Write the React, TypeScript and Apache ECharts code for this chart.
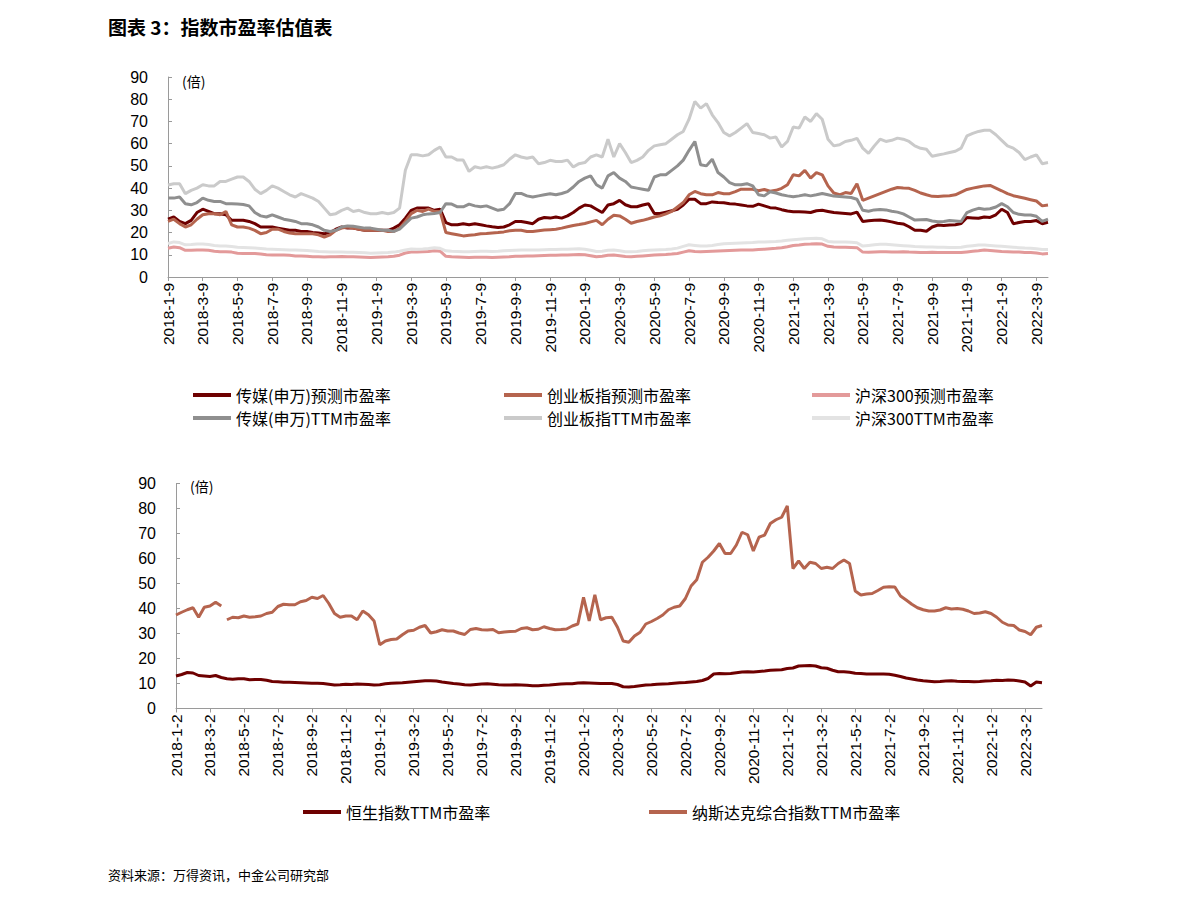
import React, { useEffect, useRef } from "react";
import * as echarts from "echarts";

// ---------- categories ----------
const topDays = [9, 19, 29];
const bottomDays = [2, 12, 22];
const topDates: string[] = [];
const bottomDates: string[] = [];
for (let y = 2018; y <= 2022; y++) {
  for (let m = 1; m <= 12; m++) {
    if (y === 2022 && m > 3) break;
    for (const d of topDays) topDates.push(`${y}-${m}-${d}`);
    for (const d of bottomDays) bottomDates.push(`${y}-${m}-${d}`);
  }
}
bottomDates.push("2022-4-2");

const yTicks = [0, 10, 20, 30, 40, 50, 60, 70, 80, 90];

// ---------- top chart series ----------
const mediaFwd = [
  26, 27, 25, 24, 25.5, 29, 30.5, 29.5, 28.5, 28.5,
  28, 25.5, 25.5, 25.5, 25, 24, 22.5, 22.5, 22.5, 22,
  21.5, 21, 21, 20.5, 20.5, 20, 19.8, 19.5, 20, 21.5,
  22.5, 22, 22, 21.5, 21, 21, 21, 21, 21, 22,
  23.5, 26.5, 30, 31, 31, 31, 30, 30.5, 24.5, 23.5,
  23.5, 24, 23.5, 24, 23.5, 23, 22.6, 22.3, 22.5, 23.5,
  25, 25, 24.5, 24, 26, 26.8, 26.5, 27, 26.5, 27.5,
  29, 31, 32.4, 32, 30.5, 29, 32.4, 33, 34.5, 32.5,
  31.6, 31.6, 32.4, 33, 28.6, 28.6, 29.2, 29.8, 30.5, 32.4,
  35, 35, 33, 33, 33.8, 33.5, 33.4, 33, 32.8, 32.4,
  32, 31.8, 32.8, 32, 31.2, 31, 30.3, 29.7, 29.4, 29.4,
  29.2, 29, 29.8, 30, 29.5, 29, 28.8, 28.6, 28.4, 29.2,
  25, 25.3, 25.5, 25.6, 25.3, 24.8, 24.2, 23.9, 22.6, 21,
  21, 20.6, 22.5, 23.4, 23.2, 23.4, 23.5, 24.1, 26.8, 26.6,
  26.4, 27, 26.8, 28, 30.5, 29, 24, 24.5, 25, 25,
  25.4, 24, 24.6,
];

const gemFwd = [
  25, 26, 24, 22.5, 23.5, 26, 28, 28.5, 28.5, 28,
  29.5, 23.5, 22.5, 22.5, 22, 21, 19.5, 20, 21.5, 21.5,
  20.5, 19.8, 19.5, 19.5, 19.5, 19.5, 19, 18, 19, 21,
  22, 22.5, 22, 21.5, 21, 21, 21, 21, 20.5, 20.5,
  22, 25, 28.5, 30, 29.5, 30.5, 29.5, 29.5, 20, 19.5,
  19, 18.5, 18.8, 19, 19.5, 19.6, 19.8, 20, 20.3, 20.8,
  21, 21, 20.5, 20.5, 20.8, 21.1, 21.3, 21.5, 22, 22.6,
  23.2, 23.6, 24.1, 24.8, 25.5, 23.5, 26, 27.8, 27.5, 26,
  24.2, 25, 25.5, 26.2, 27, 27.5, 28.4, 29.5, 31.5, 33.5,
  37, 38.5, 37.5, 37, 37, 38, 37.5, 37.5, 38.4, 39.5,
  39.5, 39.5, 38.8, 39.4, 38.6, 39, 39.9, 41.5, 46, 45.5,
  48, 44.5, 47, 46, 41, 37.8, 37, 38, 37.6, 42,
  34.5, 35.5, 36.5, 37.5, 38.5, 39.5, 40.3, 40, 39.9, 39,
  37.8, 37, 36.3, 36.2, 36.4, 36.6, 37, 38.2, 39.4, 40,
  40.5, 41, 41.2, 40, 38.8, 37.5, 36.6, 36, 35.4, 34.8,
  34.2, 32, 32.4,
];

const hs300Fwd = [
  12.9, 13.5, 13.2, 12, 12, 12.2, 12.1, 12, 11.6, 11.4,
  11.4, 11.2, 10.7, 10.6, 10.6, 10.6, 10.3, 10, 9.9, 9.9,
  9.9, 9.8, 9.5, 9.4, 9.3, 9.1, 9.1, 9, 9.1, 9.1,
  9.2, 9.1, 9.1, 9, 8.9, 8.8, 8.9, 9, 9.1, 9.3,
  9.8, 10.8, 11.2, 11.3, 11.4, 11.5, 11.8, 11.6, 9.3, 9.1,
  9, 8.9, 8.8, 8.9, 8.9, 8.9, 8.8, 8.9, 9, 9.1,
  9.3, 9.3, 9.4, 9.5, 9.6, 9.7, 9.8, 9.8, 9.9, 9.9,
  10, 10.1, 10, 9.6, 9.1, 9.3, 9.8, 9.9, 9.6, 9.2,
  9.1, 9.3, 9.5, 9.7, 9.9, 10, 10.1, 10.3, 10.6, 11.2,
  11.8, 11.5, 11.4, 11.5, 11.6, 11.7, 11.8, 11.9, 12, 12.1,
  12.2, 12.2, 12.4, 12.5, 12.7, 12.9, 13.2, 13.6, 14.2, 14.4,
  14.7, 14.8, 15, 14.8, 13.8, 13.5, 13.4, 13.4, 13.3, 13.2,
  11.2, 11.1, 11.3, 11.4, 11.4, 11.3, 11.3, 11.4, 11.2, 11.1,
  11, 11, 11.1, 11, 11, 11, 11, 11, 11.3, 11.6,
  11.8, 12.1, 11.9, 11.7, 11.5, 11.4, 11.3, 11.2, 11, 11,
  10.8, 10.4, 10.6,
];

const mediaTTM = [
  35.5, 35.5, 36, 33, 32.5, 33.5, 35.5, 34.5, 34, 34,
  33, 33, 32.8, 32.6, 32, 29, 27.5, 27, 28, 27,
  26, 25.5, 25, 24, 24, 23.5, 22.5, 21, 20.5, 21,
  22.5, 23, 22.8, 22.4, 22, 22, 21.5, 21, 21, 20.5,
  21.5, 24, 26.5, 27, 28, 28.4, 28.6, 29, 33, 32.8,
  31.6, 31.6, 32.8, 32, 31.6, 32, 31, 30, 30.5, 33,
  37.6, 37.6, 36.5, 36, 36.5, 37, 37.5, 37, 37.6, 38.4,
  40.5, 43, 44.5, 45.5, 41.5, 40, 45.5, 47, 44.5, 43,
  40.5, 40, 39.5, 39, 45, 46, 46, 48, 50, 52.6,
  57, 61, 50.5, 50, 53, 47, 45, 42.5, 41.5, 41.5,
  42, 41, 37, 36.5, 38.4, 37.8, 37, 36.5, 36.1, 36.5,
  37, 36.5, 37, 37.6, 37, 36.4, 36.2, 36, 35.8, 35,
  30, 29.6, 30.2, 30.4, 30.2, 29.6, 29.2, 28.4, 27, 25.6,
  25.8, 25.9, 25.2, 24.9, 25, 25.4, 25.2, 25, 29, 30.1,
  30.9, 30.5, 30.7, 31.5, 33, 31.6, 29, 28.2, 27.9, 27.9,
  27.3, 25, 26,
];

const gemTTM = [
  41.4, 42, 42, 37.5, 39, 40, 41.5, 41, 41, 43,
  43, 44, 45, 45, 43, 39.5, 37.5, 39, 41, 40,
  38.5, 37, 36, 37.5, 36.5, 35.5, 34, 31, 28, 28.5,
  30, 31, 29.5, 30, 29, 28.5, 28.5, 29, 28.5, 29,
  31, 48, 55, 55, 54.5, 55, 57, 58.5, 54, 54,
  52.6, 52.6, 47.5, 49.6, 49, 49.6, 49, 49.6, 50.5, 53,
  55, 54, 53.4, 54, 51, 51.5, 52.5, 52, 52, 52.6,
  49.5, 51, 51.5, 54, 55, 54, 62, 54, 60, 56,
  51.5, 52.5, 54, 57, 59, 59.5, 60, 62, 64, 65.5,
  71, 79, 76, 78, 73, 69.5, 65, 63.5, 65, 67,
  69, 65, 64.6, 64, 62.5, 63, 58.5, 61, 67.5, 67,
  72, 70, 73.5, 71, 62, 59, 59.5, 61, 61.5, 62.4,
  58, 55.6, 59, 62, 61, 61.5, 62.5, 62, 61, 59,
  57.9, 57.5, 54.3, 54.9, 55.4, 56, 56.6, 58, 63.5, 64.6,
  65.5, 66, 66, 64, 61.5, 59, 58, 56, 52.8, 54,
  55, 51, 51.5,
];

const hs300TTM = [
  15.1, 15.8, 15.5, 14.5, 14.6, 14.8, 14.8, 14.6, 14.2, 14,
  13.9, 13.7, 13.4, 13.3, 13.2, 13, 12.8, 12.6, 12.5, 12.4,
  12.3, 12.2, 12.1, 12, 11.9, 11.7, 11.5, 11.4, 11.3, 11.2,
  11.2, 11.1, 11.1, 11, 10.9, 10.7, 10.8, 10.9, 11, 11.2,
  11.6, 12.2, 12.6, 12.5, 12.6, 12.8, 13.2, 12.9, 11.8, 11.6,
  11.5, 11.4, 11.4, 11.5, 11.6, 11.6, 11.5, 11.6, 11.8, 11.9,
  12, 12.1, 12.1, 12.1, 12.2, 12.3, 12.4, 12.4, 12.5, 12.5,
  12.6, 12.7, 12.5, 12, 11.5, 11.6, 12, 12.1, 11.8, 11.4,
  11.4, 11.5, 11.8, 12, 12.2, 12.3, 12.4, 12.6, 13, 13.8,
  14.5, 14.2, 13.9, 14, 14.2, 14.6, 15, 15.1, 15.2, 15.3,
  15.4, 15.5, 15.7, 15.8, 15.9, 16, 16.2, 16.5, 16.8, 17,
  17.2, 17.3, 17.4, 17.2, 16, 15.8, 15.8, 15.7, 15.6, 15.4,
  13.9, 14.2, 14.5, 14.7, 14.7, 14.5, 14.3, 14.1, 13.9, 13.7,
  13.6, 13.5, 13.5, 13.4, 13.4, 13.3, 13.3, 13.4, 13.8, 14.1,
  14.4, 14.4, 14.2, 14, 13.8, 13.6, 13.4, 13.2, 13, 12.9,
  12.7, 12.4, 12.4,
];

// ---------- bottom chart series ----------
const hangSengTTM = [
  13, 13.6, 14.4, 14.2, 13.2, 13, 12.8, 13.2, 12.4, 11.9,
  11.7, 11.9, 11.9, 11.5, 11.6, 11.6, 11.3, 10.8, 10.7, 10.5,
  10.5, 10.4, 10.3, 10.2, 10.1, 10.1, 10, 9.7, 9.4, 9.5,
  9.7, 9.6, 9.8, 9.7, 9.6, 9.4, 9.5, 9.9, 10.1, 10.2,
  10.3, 10.5, 10.7, 10.9, 11.1, 11.1, 11, 10.6, 10.3, 10,
  9.8, 9.5, 9.4, 9.6, 9.8, 9.9, 9.7, 9.5, 9.4, 9.4,
  9.5, 9.4, 9.3, 9.1, 9.1, 9.3, 9.4, 9.6, 9.8, 9.9,
  9.9, 10.2, 10.3, 10.2, 10.1, 10, 10, 10, 9.6, 8.7,
  8.6, 8.8, 9.1, 9.4, 9.5, 9.7, 9.8, 9.9, 10.1, 10.3,
  10.4, 10.6, 10.8, 11.2, 12, 13.8, 14, 13.9, 14, 14.3,
  14.6, 14.7, 14.6, 14.8, 15, 15.3, 15.4, 15.5, 16, 16.2,
  17, 17.1, 17.2, 17, 16.3, 16.1, 15.3, 14.7, 14.7, 14.5,
  14.1, 14, 13.8, 13.8, 13.8, 13.8, 13.7, 13.3, 12.8, 12.2,
  11.8, 11.4, 11.1, 10.9, 10.7, 10.8, 11, 11.1, 10.9, 10.8,
  10.8, 10.7, 10.8, 11, 11.1, 11.3, 11.2, 11.4, 11.3, 11,
  10.6, 9, 10.6, 10.3,
];

const nasdaqTTM = [
  37.4, 38.5, 39.5, 40.3, 36.5, 40.5, 41, 42.5, 41, 35.5,
  36.5, 36.3, 37, 36.5, 36.7, 37, 38, 38.5, 40.8, 41.7,
  41.5, 41.5, 42.7, 43.2, 44.5, 44, 45.2, 42, 38, 36.5,
  37, 37, 35.5, 39, 37.5, 35, 25.5, 27, 27.6, 27.8,
  29.5, 31, 31.3, 32.5, 33.2, 30.2, 30.7, 31.5, 31, 31,
  30.2, 29.6, 31.6, 32, 31.5, 31.4, 31.6, 30.3, 30.6, 30.8,
  30.9, 32, 32.3, 31.5, 31.7, 32.7, 32, 31.5, 31.6, 31.8,
  33, 33.8, 44.5, 35, 45.5, 35.5, 36.3, 36.5, 32.5, 27,
  26.5, 29, 30.5, 33.8, 34.8, 36, 37.4, 39.5, 40.5, 41,
  44, 49, 51.5, 58.5, 60.5, 63, 66, 62, 62, 65.4,
  70.5, 69.5, 63, 68.5, 69.4, 74, 75.5, 76.5, 81, 56,
  59, 56, 58.5, 58, 56, 56.5, 56, 58, 59.4, 58,
  47, 45.4, 45.8, 46, 47.2, 48.5, 48.7, 48.6, 45, 43.4,
  41.7, 40.3, 39.5, 39, 39, 39.4, 40.3, 39.8, 40, 39.7,
  39, 38, 38.2, 38.7, 38, 36.5, 34.5, 33.4, 33.2, 31.4,
  30.8, 29.5, 32.5, 33.2,
];
// the reference line has a break in the data after this index
const nasdaqBreakAfter = 8;

// ---------- names & colours ----------
const topNames = [
  "传媒(申万)预测市盈率",
  "创业板指预测市盈率",
  "沪深300预测市盈率",
  "传媒(申万)TTM市盈率",
  "创业板指TTM市盈率",
  "沪深300TTM市盈率",
];
const topColors = ["#6E0000", "#B5644E", "#E39A9A", "#8F8F8F", "#CACACA", "#E3E3E3"];
const topData = [mediaFwd, gemFwd, hs300Fwd, mediaTTM, gemTTM, hs300TTM];
const bottomNames = ["恒生指数TTM市盈率", "纳斯达克综合指数TTM市盈率"];
const bottomColors = ["#6E0000", "#B5644E"];

const LATIN = "'Liberation Sans', Arial, 'Noto Sans CJK SC', sans-serif";
const CJK = "'Noto Sans CJK SC', 'Liberation Sans', sans-serif";

function buildOption() {
  const axisLineStyle = { color: "#9A9A9A", width: 1 };
  const makeY = (gridIndex: number) => ({
    type: "value",
    gridIndex,
    min: yTicks[0],
    max: yTicks[yTicks.length - 1],
    interval: yTicks[1] - yTicks[0],
    splitLine: { show: false },
    axisLine: { show: true, lineStyle: axisLineStyle },
    axisTick: { show: true, inside: true, length: 4, lineStyle: axisLineStyle },
    axisLabel: { color: "#000", fontSize: 16, fontFamily: LATIN, margin: 20 },
  });
  const makeX = (gridIndex: number, data: string[]) => ({
    type: "category",
    gridIndex,
    data,
    boundaryGap: false,
    axisLine: { show: true, lineStyle: axisLineStyle },
    axisTick: { show: true, interval: 5, length: 4, lineStyle: axisLineStyle },
    axisLabel: {
      interval: 5,
      rotate: 90,
      color: "#000",
      fontSize: 15.5,
      fontFamily: LATIN,
      margin: 6,
    },
    splitLine: { show: false },
  });

  const mkLine = (name: string, data: any[], color: string, axis: number) => ({
    name,
    type: "line",
    xAxisIndex: axis,
    yAxisIndex: axis,
    data,
    showSymbol: false,
    symbol: "none",
    color,
    lineStyle: { width: 3, color },
  });

  const series: any[] = topData.map((d, k) => mkLine(topNames[k], d, topColors[k], 0));
  series.push(mkLine(bottomNames[0], hangSengTTM, bottomColors[0], 1));
  series.push(
    mkLine(
      bottomNames[1],
      nasdaqTTM.map((v, i) => (i <= nasdaqBreakAfter ? v : null)),
      bottomColors[1],
      1
    )
  );
  series.push(
    mkLine(
      bottomNames[1],
      nasdaqTTM.map((v, i) => (i > nasdaqBreakAfter ? v : null)),
      bottomColors[1],
      1
    )
  );

  const legendBase = {
    icon: "rect",
    itemWidth: 38,
    itemHeight: 4,
    padding: 0,
    itemGap: 0,
    textStyle: { color: "#000", fontSize: 16, fontFamily: CJK },
  };
  const topLegendPos = [
    [193, 387],
    [504, 387],
    [812, 387],
    [193, 410],
    [504, 410],
    [812, 410],
  ];
  const legends: any[] = topNames.map((n, k) => ({
    ...legendBase,
    data: [n],
    left: topLegendPos[k][0],
    top: topLegendPos[k][1],
  }));
  const bottomLegendPos = [
    [303, 804],
    [649, 804],
  ];
  bottomNames.forEach((n, k) => {
    legends.push({ ...legendBase, data: [n], left: bottomLegendPos[k][0], top: bottomLegendPos[k][1] });
  });

  return {
    animation: false,
    backgroundColor: "#fff",
    grid: [
      { left: 168, top: 77, width: 880, height: 200, containLabel: false },
      { left: 176, top: 483.5, width: 866, height: 225, containLabel: false },
    ],
    xAxis: [makeX(0, topDates), makeX(1, bottomDates)],
    yAxis: [makeY(0), makeY(1)],
    legend: legends,
    series,
    graphic: [
      {
        type: "text",
        left: 108,
        top: 17,
        style: {
          text: "图表 3：指数市盈率估值表",
          fontSize: 19,
          fontWeight: "bold",
          fontFamily: CJK,
          fill: "#000",
        },
      },
      {
        type: "text",
        left: 182,
        top: 74,
        style: { text: "(倍)", fontSize: 14, fontFamily: CJK, fill: "#000" },
      },
      {
        type: "text",
        left: 190,
        top: 479,
        style: { text: "(倍)", fontSize: 14, fontFamily: CJK, fill: "#000" },
      },
      {
        type: "text",
        left: 108,
        top: 868,
        style: {
          text: "资料来源：万得资讯，中金公司研究部",
          fontSize: 13,
          fontFamily: CJK,
          fill: "#000",
        },
      },
    ],
  };
}

export default function App() {
  const ref = useRef<HTMLDivElement>(null);
  useEffect(() => {
    if (!ref.current) return;
    const chart = echarts.init(ref.current, null, { renderer: "svg" });
    chart.setOption(buildOption() as any);
    return () => chart.dispose();
  }, []);
  return (
    <div
      ref={ref}
      style={{ position: "fixed", left: 0, top: 0, width: 1190, height: 902, background: "#fff" }}
    />
  );
}
